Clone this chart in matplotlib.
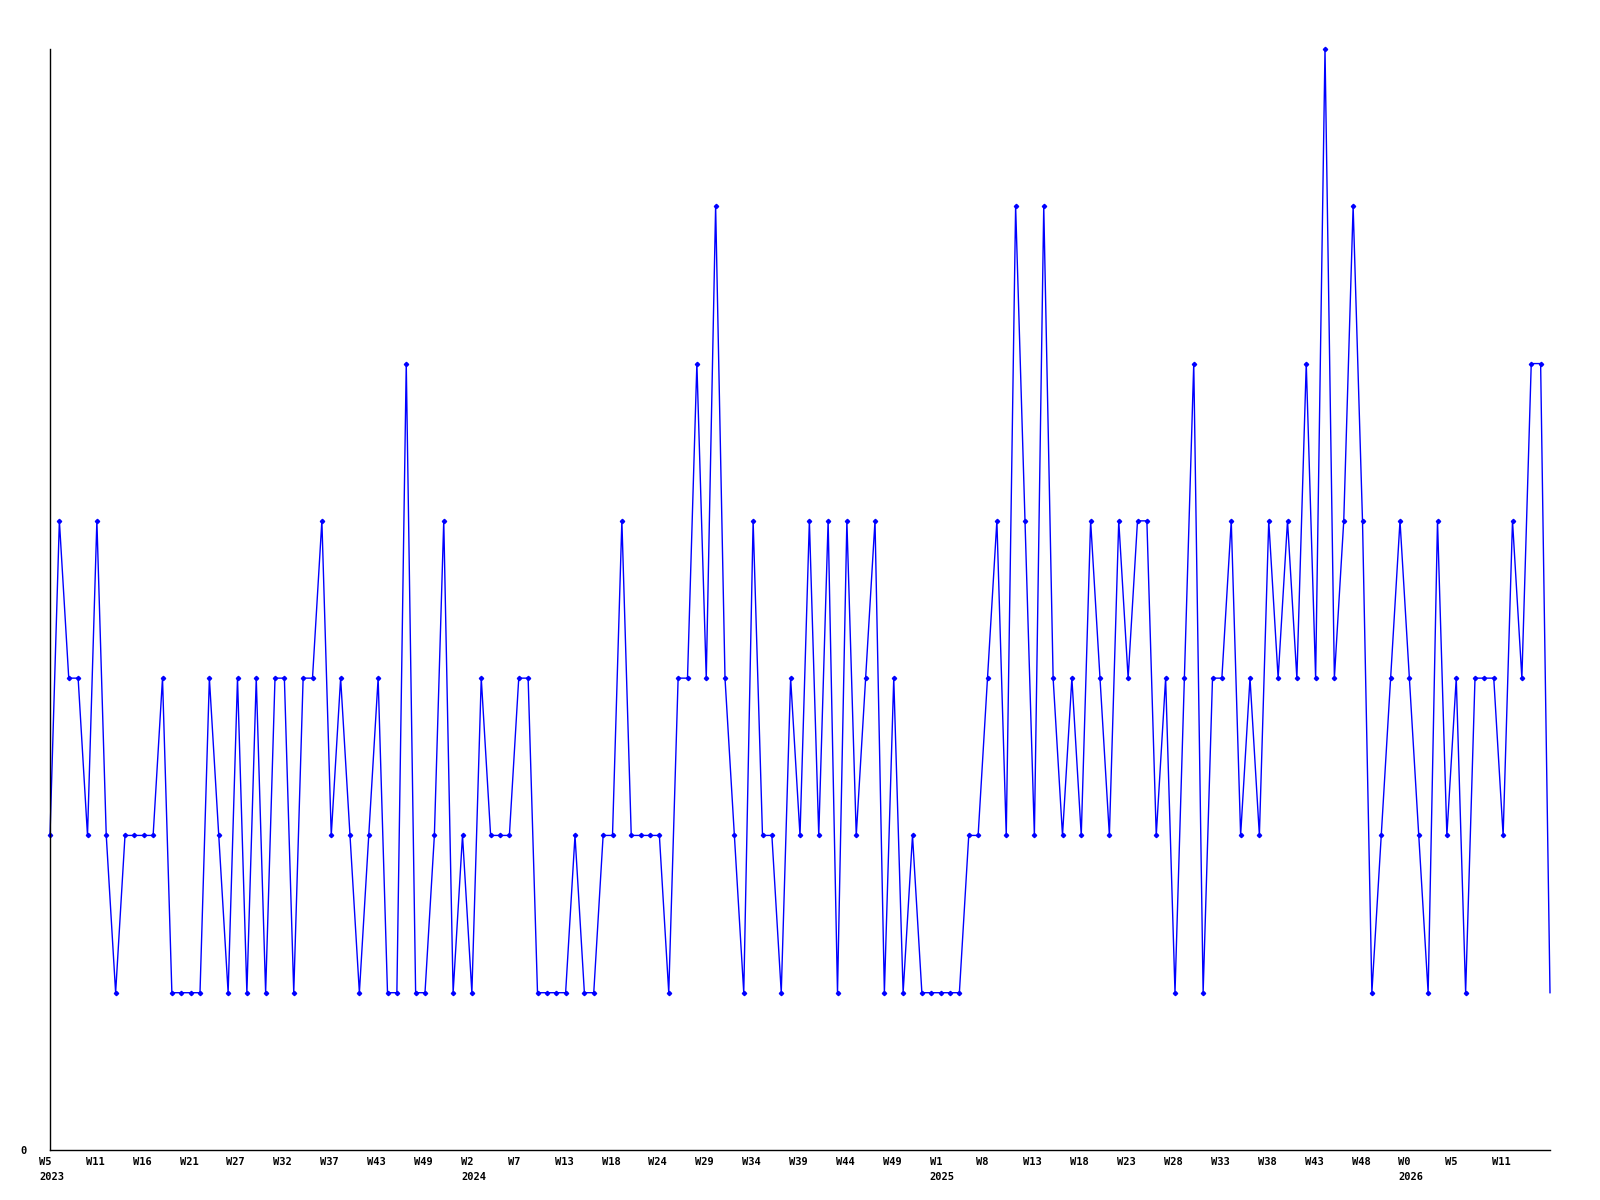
import matplotlib
matplotlib.use("Agg")
import matplotlib.pyplot as plt
import matplotlib.transforms as mtransforms
import numpy as np

values = [
    2, 4, 3, 3, 2, 4, 2, 1, 2, 2, 2, 2, 3, 1, 1, 1, 1, 3, 2, 1,
    3, 1, 3, 1, 3, 3, 1, 3, 3, 4, 2, 3, 2, 1, 2, 3, 1, 1, 5, 1,
    1, 2, 4, 1, 2, 1, 3, 2, 2, 2, 3, 3, 1, 1, 1, 1, 2, 1, 1, 2,
    2, 4, 2, 2, 2, 2, 1, 3, 3, 5, 3, 6, 3, 2, 1, 4, 2, 2, 1, 3,
    2, 4, 2, 4, 1, 4, 2, 3, 4, 1, 3, 1, 2, 1, 1, 1, 1, 1, 2, 2,
    3, 4, 2, 6, 4, 2, 6, 3, 2, 3, 2, 4, 3, 2, 4, 3, 4, 4, 2, 3,
    1, 3, 5, 1, 3, 3, 4, 2, 3, 2, 4, 3, 4, 3, 5, 3, 7, 3, 4, 6,
    4, 1, 2, 3, 4, 3, 2, 1, 4, 2, 3, 1, 3, 3, 3, 2, 4, 3, 5, 5,
    1,
]

tick_labels = [
    "W5\n2023", "W11", "W16", "W21", "W27", "W32", "W37", "W43", "W49",
    "W2\n2024", "W7", "W13", "W18", "W24", "W29", "W34", "W39", "W44", "W49",
    "W1\n2025", "W8", "W13", "W18", "W23", "W28", "W33", "W38", "W43", "W48",
    "W0\n2026", "W5", "W11",
]
tick_step = 5

x = np.arange(len(values))

fig = plt.figure(figsize=(16, 12), dpi=100)
ax = fig.add_axes([50 / 1600, 50 / 1200, 1500 / 1600, 1101 / 1200])

ax.plot(x, values, color="#0000ff", linewidth=1.0, marker="D", markersize=2.2,
        markerfacecolor="#0000ff", markeredgecolor="#0000ff",
        markevery=list(range(len(values) - 1)), clip_on=False)

ax.set_xlim(0, len(values) - 1)
ax.set_ylim(0, 7)

for s in ("top", "right"):
    ax.spines[s].set_visible(False)
for s in ("left", "bottom"):
    ax.spines[s].set_color("black")
    ax.spines[s].set_linewidth(1.0)

font = dict(family="DejaVu Sans Mono", weight="bold", size=7.5)

ax.set_yticks([0])
ax.set_yticklabels(["0"], fontdict=font)
ax.tick_params(axis="y", length=0, pad=17)

ticks = [i * tick_step for i in range(len(tick_labels))]
ax.set_xticks(ticks)
ax.set_xticklabels(tick_labels, fontdict=font, ha="left", linespacing=1.6)
ax.tick_params(axis="x", length=0, pad=5)

offset = mtransforms.ScaledTranslation(-11 / 100, 0, fig.dpi_scale_trans)
for lbl in ax.get_xticklabels():
    lbl.set_transform(lbl.get_transform() + offset)

fig.savefig("out.png", dpi=100, facecolor="white")
